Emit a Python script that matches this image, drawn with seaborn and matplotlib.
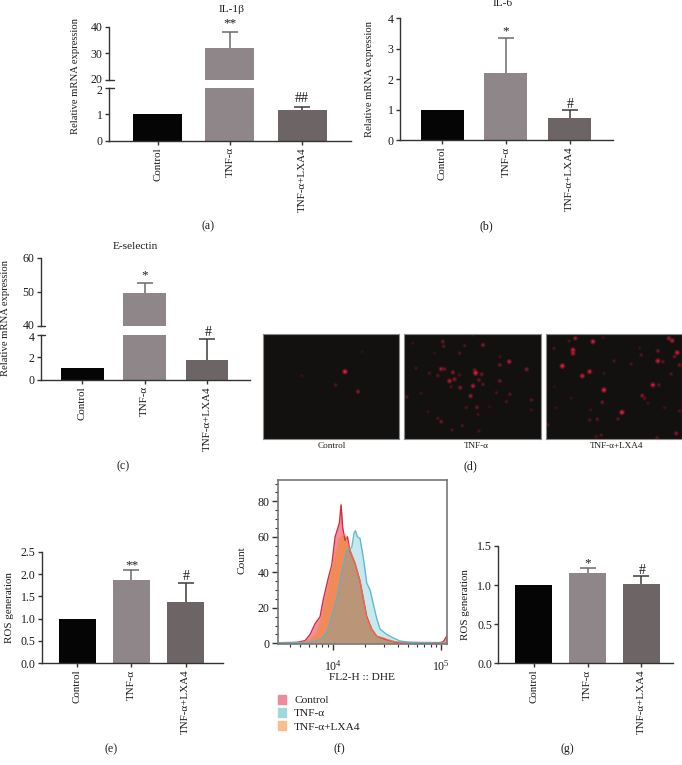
import matplotlib
matplotlib.use("Agg")
import matplotlib.pyplot as plt
from matplotlib.patches import Patch
from matplotlib.ticker import MultipleLocator, LogLocator, FixedLocator, FixedFormatter, NullFormatter
from matplotlib.transforms import blended_transform_factory, ScaledTranslation
import numpy as np
import pandas as pd
import seaborn as sns

# ---------- data ----------
groups = ["Control", "TNF-α", "TNF-α+LXA4"]
bar_colors = ["#050505", "#8f8588", "#6e6464"]
err_colors = ["#050505", "#6f686a", "#3f3a3a"]

il1b_vals = [1.01, 32.0, 1.18]
il1b_err = [1.01, 38.0, 1.29]
il6_vals = [1.0, 2.2, 0.74]
il6_err = [1.0, 3.37, 0.98]
esel_vals = [1.0, 49.5, 1.75]
esel_err = [1.0, 52.7, 3.58]
ros_e_vals = [1.0, 1.86, 1.38]
ros_e_err = [1.0, 2.08, 1.81]
ros_g_vals = [1.0, 1.16, 1.02]
ros_g_err = [1.0, 1.22, 1.12]

# flow cytometry histogram: log10(FL2-H), Count
ctrl_logx = [3.492, 3.668, 3.745, 3.791, 3.837, 3.883, 3.914, 3.96, 3.991, 4.022, 4.043, 4.062, 4.077, 4.092, 4.114, 4.135, 4.16, 4.206, 4.252, 4.283, 4.314, 4.36, 4.406, 4.498, 4.591, 4.991, 5.022, 5.052]
ctrl_count = [0.3, 0.5, 1.5, 5, 11, 15, 25, 37, 44, 60, 64, 68, 78, 65, 58, 60, 52, 45, 35, 25, 15, 8, 4, 2, 0.5, 0.3, 1, 4]
tnf_logx = [3.492, 3.791, 3.883, 3.945, 3.991, 4.037, 4.083, 4.129, 4.175, 4.197, 4.209, 4.228, 4.252, 4.283, 4.314, 4.345, 4.375, 4.406, 4.437, 4.498, 4.56, 4.622, 4.714, 5.052]
tnf_count = [0.2, 0.5, 2, 6, 15, 25, 40, 52, 54, 62, 63.5, 60, 59, 48, 34, 30, 22, 14, 8, 5, 3, 1.3, 0.5, 0]
lxa_logx = [3.492, 3.714, 3.791, 3.852, 3.898, 3.945, 3.991, 4.022, 4.052, 4.083, 4.114, 4.145, 4.175, 4.206, 4.252, 4.283, 4.314, 4.36, 4.406, 4.468, 4.56, 4.652, 5.052]
lxa_count = [0.3, 0.5, 2, 6, 15, 28, 42, 50, 58, 61, 61, 55, 50, 45, 35, 25, 14, 8, 4, 3, 1, 0.4, 0.5]

# fluorescence micrographs: spot x, spot y, brightness
spots_ctrl_x = [245, 284, 217, 115, 297]
spots_ctrl_y = [112, 172, 152, 124, 52]
spots_ctrl_b = [1.0, 0.6, 0.35, 0.15, 0.12]
spots_tnf_x = [235, 115, 117, 180, 165, 313, 285, 365, 210, 213, 110, 120, 145, 100, 75, 35, 231, 285, 223, 235, 205, 150, 135, 140, 167, 198, 315, 305, 380, 217, 185, 380, 110, 100, 173, 143, 223, 70, 50, 7, 285, 165, 275, 220, 25, 205, 255, 90]
spots_tnf_y = [32, 22, 36, 34, 57, 82, 92, 105, 107, 116, 104, 104, 114, 124, 117, 102, 120, 140, 137, 150, 155, 135, 140, 157, 160, 185, 180, 202, 197, 219, 220, 227, 262, 252, 274, 287, 290, 232, 177, 188, 67, 122, 175, 240, 27, 2, 217, 57]
spots_tnf_b = [0.6, 0.5, 0.4, 0.3, 0.35, 0.8, 0.5, 0.6, 0.5, 1, 0.7, 0.5, 0.6, 0.4, 0.3, 0.25, 0.5, 0.5, 0.5, 0.4, 0.8, 0.6, 0.8, 0.3, 0.6, 0.7, 0.4, 0.3, 0.4, 0.5, 0.3, 0.2, 0.5, 0.3, 0.3, 0.3, 0.3, 0.2, 0.2, 0.4, 0.25, 0.3, 0.25, 0.25, 0.15, 0.2, 0.15, 0.15]
spots_lxa_x = [89, 142, 82, 82, 25, 70, 370, 380, 395, 387, 337, 287, 337, 352, 402, 50, 132, 110, 205, 257, 377, 175, 322, 340, 175, 290, 297, 170, 229, 217, 155, 132, 135, 307, 402, 392, 335, 167, 152, 7, 32, 77, 357, 27, 282, 172]
spots_lxa_y = [12, 22, 47, 57, 42, 20, 12, 19, 55, 67, 50, 62, 80, 82, 92, 95, 112, 125, 80, 89, 119, 117, 152, 152, 167, 184, 192, 204, 234, 254, 255, 257, 227, 207, 230, 297, 310, 302, 307, 272, 220, 192, 220, 157, 42, 10]
spots_lxa_b = [0.7, 0.9, 0.9, 0.8, 0.3, 0.3, 0.7, 0.8, 0.9, 0.5, 0.5, 0.35, 0.9, 0.4, 0.5, 1, 0.9, 0.9, 0.3, 0.3, 0.35, 0.2, 0.9, 0.4, 1, 0.6, 0.4, 0.5, 1, 0.4, 0.4, 0.35, 0.2, 0.2, 0.3, 0.6, 0.4, 0.35, 0.3, 0.3, 0.15, 0.15, 0.2, 0.12, 0.2, 0.2]

# ---------- style ----------
sns.set_theme(style="ticks")
plt.rcParams["font.family"] = ["Liberation Serif", "DejaVu Serif"]
plt.rcParams["mathtext.fontset"] = "custom"
plt.rcParams["mathtext.rm"] = "Liberation Serif"
plt.rcParams["mathtext.it"] = "Liberation Serif:italic"
plt.rcParams["text.color"] = "#1c1c1c"
AX = "#333333"
FS = 7.9
YL = 7.7
W, H = 682, 765
fig = plt.figure(figsize=(W / 100, H / 100), dpi=100)


def box(l, t, r, b):
    return fig.add_axes([l / W, 1 - b / H, (r - l) / W, (b - t) / H])


def label(x, y, s, size=FS, rot=0):
    fig.text(x / W, 1 - y / H, s, ha="center", va="center", fontsize=size, rotation=rot, color="#1c1c1c")


def style_axis(ax, xvisible=True):
    sns.despine(ax=ax, top=True, right=True, bottom=not xvisible)
    for sp in ("left", "bottom"):
        ax.spines[sp].set_color(AX)
        ax.spines[sp].set_linewidth(1.0)
    ax.tick_params(axis="y", length=3, width=1, color=AX, labelsize=FS + 0.7, pad=1.5, labelcolor="#1c1c1c")
    ax.set_xlabel("")
    ax.set_ylabel("")
    ax.grid(False)
    if xvisible:
        ax.tick_params(axis="x", length=3, width=1, color=AX, labelsize=FS, pad=1.5, labelrotation=90, labelcolor="#1c1c1c")
    else:
        ax.tick_params(axis="x", length=0, labelbottom=False)


def draw_bars(ax, vals, errs, width, xlim):
    df = pd.DataFrame({"group": groups, "value": vals})
    sns.barplot(data=df, x="group", y="value", hue="group", palette=bar_colors, width=width,
                dodge=False, legend=False, ax=ax, linewidth=0, errorbar=None)
    for i, (v, e) in enumerate(zip(vals, errs)):
        if e > v:
            cont = ax.errorbar(i, v, yerr=[[0], [e - v]], color=err_colors[i], capsize=5.5, elinewidth=1.1,
                               capthick=1.1, zorder=1)
            cont.lines[1][0].set_visible(False)
    ax.set_xlim(*xlim)


def simple_panel(rect, vals, errs, width, xlim, ylim, step):
    ax = box(*rect)
    draw_bars(ax, vals, errs, width, xlim)
    ax.set_ylim(*ylim)
    ax.yaxis.set_major_locator(MultipleLocator(step))
    style_axis(ax)
    return ax


def shift_label(ax, index, dy_px):
    lab = ax.yaxis.get_major_ticks()[index].label1
    lab.set_transform(lab.get_transform() + ScaledTranslation(0, dy_px / 100, fig.dpi_scale_trans))


def broken_panel(top_rect, low_rect, vals, errs, width, xlim, low_lim, up_lim, low_ticks, up_ticks):
    low = box(*low_rect)
    draw_bars(low, vals, errs, width, xlim)
    low.set_ylim(*low_lim)
    low.set_yticks(low_ticks)
    style_axis(low)
    up = box(*top_rect)
    draw_bars(up, vals, errs, width, xlim)
    up.set_ylim(*up_lim)
    up.set_yticks(up_ticks)
    style_axis(up, xvisible=False)
    shift_label(low, -1, -1.5)
    shift_label(up, 0, 1.5)
    for ax, y in ((low, low_lim[1]), (up, up_lim[0])):
        tr = blended_transform_factory(ax.transAxes, ax.transData)
        ax.plot([0, 0.019], [y, y], color=AX, lw=1, transform=tr, clip_on=False)
    return low, up


STAR = 9.5
HASH = 10
PAN = 8.6

# (a)
broken_panel((109, 26.7, 351, 80), (109, 88, 351, 140.7), il1b_vals, il1b_err, 0.68, (-0.675, 2.677),
             (0, 2), (20, 40), [0, 1, 2], [20, 30, 40])
label(232, 9.3, "IL-1β", size=8.2)
label(75, 75.5, "Relative mRNA expression", size=YL, rot=90)
label(230, 23.5, "**", size=STAR)
label(302, 99, "##", size=HASH)
label(208, 226.7, "(a)", size=PAN)

# (b)
simple_panel((400, 18.3, 612.7, 140.3), il6_vals, il6_err, 0.673, (-0.658, 2.673), (0, 4), 1)
label(503, 4, "IL-6", size=8.2)
label(370, 79, "Relative mRNA expression", size=YL, rot=90)
label(506, 31.5, "*", size=STAR)
label(570, 104, "#", size=HASH)
label(486.7, 226.7, "(b)", size=PAN)

# (c)
broken_panel((40.7, 257.7, 250, 325.7), (40.7, 334.7, 250, 379.7), esel_vals, esel_err, 0.685, (-0.667, 2.69),
             (0, 4), (40, 60), [0, 2, 4], [40, 50, 60])
label(135.7, 246.7, "E-selectin", size=8.2)
label(5.7, 318, "Relative mRNA expression", size=YL, rot=90)
label(145, 275, "*", size=STAR)
label(208, 333, "#", size=HASH)
label(123, 466, "(c)", size=PAN)

# (d)
panels_d = [((263.3, 334.3, 399.3, 439), spots_ctrl_x, spots_ctrl_y, spots_ctrl_b, 331.7),
            ((404.3, 334.3, 541, 439), spots_tnf_x, spots_tnf_y, spots_tnf_b, 476.7),
            ((545.7, 334.3, 681.5, 439), spots_lxa_x, spots_lxa_y, spots_lxa_b, 617)]
spot_cmap = sns.blend_palette(["#2a1014", "#6a1824", "#d81c38"], as_cmap=True)
for (rect, sx, sy, sb, lx), name in zip(panels_d, groups):
    ax = box(*rect)
    ax.set_facecolor("#131010")
    d = pd.DataFrame({"x": sx, "y": sy, "b": sb})
    sns.scatterplot(data=d, x="x", y="y", hue="b", hue_norm=(0, 1), palette=spot_cmap, size="b",
                    size_norm=(0, 1), sizes=(6, 18), legend=False, linewidth=0, alpha=0.4, ax=ax)
    sns.scatterplot(data=d, x="x", y="y", hue="b", hue_norm=(0, 1), palette=spot_cmap, size="b",
                    size_norm=(0, 1), sizes=(1, 5), legend=False, linewidth=0, ax=ax)
    ax.set_xlim(0, 408)
    ax.set_ylim(314, 0)
    ax.set_xticks([])
    ax.set_yticks([])
    ax.set_xlabel("")
    ax.set_ylabel("")
    ax.grid(False)
    for sp in ax.spines.values():
        sp.set_color("#8a8a8a")
        sp.set_linewidth(0.8)
    label(lx, 446, name, size=6.6)
label(470.7, 466, "(d)", size=PAN)

# (e)
simple_panel((41.7, 551.7, 222.7, 663.3), ros_e_vals, ros_e_err, 0.68, (-0.65, 2.68), (0, 2.5), 0.5)
label(10, 607.5, "ROS generation", rot=90)
label(131.7, 565, "**", size=STAR)
label(186, 576, "#", size=HASH)
label(111, 749, "(e)", size=PAN)

# (f)
ax = box(277.7, 480, 446.7, 644)
ax.set_xscale("log")
series = [(ctrl_logx, ctrl_count, "#ea3550", "#d9293c", 0.55, 1.0),
          (lxa_logx, lxa_count, "#f08a3c", "#ee8a5c", 0.7, 0.7),
          (tnf_logx, tnf_count, "#30b0c8", "#55b4c8", 0.28, 0.9)]
for lx, cnt, fc, ec, a, la in series:
    ax.fill_between(10 ** np.array(lx), cnt, 0, color=fc, alpha=a, linewidth=0)
for lx, cnt, fc, ec, a, la in series:
    sns.lineplot(x=10 ** np.array(lx), y=cnt, color=ec, lw=1.0, alpha=la, ax=ax, sort=False,
                 estimator=None, legend=False)
ax.set_xlim(10 ** 3.492, 10 ** 5.052)
ax.set_ylim(-0.4, 92)
ax.xaxis.set_major_locator(FixedLocator([1e4, 1e5]))
ax.xaxis.set_major_formatter(FixedFormatter(["$10^4$", "$10^5$"]))
ax.xaxis.set_minor_locator(LogLocator(base=10, subs=np.arange(2, 10), numticks=10))
ax.xaxis.set_minor_formatter(NullFormatter())
ax.yaxis.set_major_locator(MultipleLocator(20))
ax.yaxis.set_minor_locator(MultipleLocator(5))
ax.tick_params(axis="both", which="major", length=4, width=1, color=AX, labelsize=FS + 0.7, labelcolor="#1c1c1c", pad=2)
ax.tick_params(axis="x", which="major", pad=7)
ax.tick_params(axis="both", which="minor", length=2, width=0.8, color=AX)
ax.set_xlabel("")
ax.set_ylabel("")
ax.grid(False)
for sp in ax.spines.values():
    sp.set_color("#777777")
    sp.set_linewidth(1.2)
label(362, 677, "FL2-H :: DHE", size=8.2)
label(242, 560, "Count", rot=90, size=8.2)
handles = [Patch(color="#f08a9a", label=groups[0]), Patch(color="#9fd8dc", label=groups[1]),
           Patch(color="#f7be8e", label=groups[2])]
fig.legend(handles=handles, loc="center left", bbox_to_anchor=(277.7 / W, 1 - 713.3 / H), frameon=False,
           fontsize=8.2, handlelength=0.7, handleheight=0.8, handletextpad=0.75, labelspacing=0.25,
           borderpad=0, borderaxespad=0)
label(339, 749, "(f)", size=PAN)

# (g)
simple_panel((498.3, 546, 673, 663.3), ros_g_vals, ros_g_err, 0.685, (-0.66, 2.59), (0, 1.5), 0.5)
label(466, 605, "ROS generation", rot=90)
label(587.7, 563.5, "*", size=STAR)
label(642, 570.7, "#", size=HASH)
label(567, 749, "(g)", size=PAN)

fig.savefig("out.png", dpi=100, facecolor="white")
